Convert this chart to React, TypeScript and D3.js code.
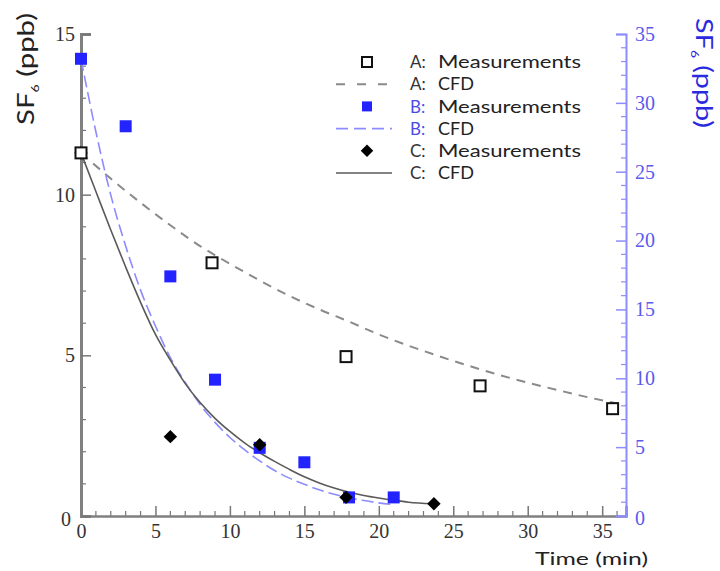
import * as d3 from 'd3';
import React, { useEffect, useRef } from 'react';

// measurements (left axis for A and C, right axis for B)
const timeA = [0, 8.8, 17.8, 26.8, 35.7];
const measA = [11.3, 7.88, 4.96, 4.05, 3.34];
const timeB = [0, 3, 6, 9, 12, 15, 18, 21];
const measB = [33.2, 28.3, 17.4, 9.9, 4.95, 3.9, 1.35, 1.35];
const timeC = [0, 6, 12, 17.8, 23.7];
const measC = [11.3, 2.47, 2.22, 0.58, 0.38];

// CFD curves
const cfdTimeA = [0, 2, 4, 6, 8, 10, 12, 14, 16, 18, 20, 22, 24, 26, 28, 30, 32, 34, 36.6];
const cfdA = [11.3, 10.5, 9.75, 9.05, 8.4, 7.85, 7.33, 6.85, 6.43, 6.05, 5.65, 5.3, 4.98, 4.68, 4.4, 4.15, 3.92, 3.7, 3.45];
const cfdTimeB = [0, 1, 2, 3, 4, 5, 6, 7, 8, 9, 10, 11, 12, 13, 14, 15, 16, 17, 18, 19, 20, 21];
const cfdB = [33.2, 27.9, 23.3, 19.6, 16.4, 13.8, 11.5, 9.7, 8.1, 6.8, 5.7, 4.8, 4.0, 3.3, 2.75, 2.3, 1.9, 1.58, 1.32, 1.12, 0.95, 0.82];
const cfdTimeC = [0, 1, 2, 3, 4, 5, 6, 7, 8, 9, 10, 11, 12, 13, 14, 15, 16, 17, 18, 19, 20, 21, 22, 23.6];
const cfdC = [11.3, 10.1, 8.9, 7.75, 6.65, 5.65, 4.85, 4.12, 3.53, 3.04, 2.63, 2.27, 1.97, 1.7, 1.45, 1.22, 1.03, 0.87, 0.74, 0.64, 0.56, 0.49, 0.43, 0.38];

const xTicks = [0, 5, 10, 15, 20, 25, 30, 35];
const leftTicks = [0, 5, 10, 15];
const rightTicks = [0, 5, 10, 15, 20, 25, 30, 35];

const legendItems = [
    { key: 'A:', label: 'Measurements', kind: 'open' },
    { key: 'A:', label: 'CFD', kind: 'dashA' },
    { key: 'B:', label: 'Measurements', kind: 'blue' },
    { key: 'B:', label: 'CFD', kind: 'dashB' },
    { key: 'C:', label: 'Measurements', kind: 'diamond' },
    { key: 'C:', label: 'CFD', kind: 'solid' },
];

const width = 720;
const height = 571;
const blue = '#2323ff';
const lavender = '#8c8cff';

export default function App() {
    const svgRef = useRef(null);

    useEffect(() => {
        if (!svgRef.current) return;
        const svg = d3.select(svgRef.current);
        svg.selectAll('*').remove();

        const x = d3.scaleLinear().domain([0, 36.6]).range([81, 626]);
        const yL = d3.scaleLinear().domain([0, 15]).range([516, 34]);
        const yR = d3.scaleLinear().domain([0, 35]).range([516, 34]);
        const serif = '"Liberation Serif", "Times New Roman", serif';
        const sans = 'Lato, "Open Sans", sans-serif';

        // minor ticks
        const minorX = d3.range(0, 37, 1).filter(d => d % 5 !== 0);
        svg.append('g').selectAll('line').data(minorX).join('line')
            .attr('x1', d => x(d)).attr('x2', d => x(d))
            .attr('y1', 516).attr('y2', 511)
            .attr('stroke', '#777').attr('stroke-width', 1.2);
        svg.append('g').selectAll('line').data(d3.range(1, 15).filter(d => d % 5 !== 0)).join('line')
            .attr('x1', 81).attr('x2', 86)
            .attr('y1', d => yL(d)).attr('y2', d => yL(d))
            .attr('stroke', '#777').attr('stroke-width', 1.2);
        svg.append('g').selectAll('line').data(d3.range(1, 35).filter(d => d % 5 !== 0)).join('line')
            .attr('x1', 626).attr('x2', 621)
            .attr('y1', d => yR(d)).attr('y2', d => yR(d))
            .attr('stroke', lavender).attr('stroke-width', 1.2);

        // bottom axis
        const gx = svg.append('g').attr('transform', 'translate(0,516)')
            .call(d3.axisBottom(x).tickValues(xTicks).tickSize(-10).tickPadding(8));
        gx.select('.domain').attr('stroke', '#808080').attr('stroke-width', 2.5);
        gx.selectAll('.tick line').attr('stroke', '#777').attr('stroke-width', 1.5);
        gx.selectAll('.tick text').style('font-family', serif).style('font-size', '20px').attr('fill', '#333');

        // left axis
        const gl = svg.append('g').attr('transform', 'translate(81,0)')
            .call(d3.axisLeft(yL).tickValues(leftTicks).tickSize(-10).tickPadding(6));
        gl.select('.domain').attr('stroke', '#808080').attr('stroke-width', 3);
        gl.selectAll('.tick line').attr('stroke', '#777').attr('stroke-width', 1.5);
        gl.selectAll('.tick text').style('font-family', serif).style('font-size', '20px').attr('fill', '#333');
        gl.selectAll('.tick text').filter(d => d === 0).attr('dy', '0.45em').attr('x', -10);

        // right axis
        const gr = svg.append('g').attr('transform', 'translate(626,0)')
            .call(d3.axisRight(yR).tickValues(rightTicks).tickSize(-10).tickPadding(9));
        gr.select('.domain').attr('stroke', lavender).attr('stroke-width', 2);
        gr.selectAll('.tick line').attr('stroke', lavender).attr('stroke-width', 1.5);
        gr.selectAll('.tick text').style('font-family', serif).style('font-size', '20px').attr('fill', '#5a5aee');
        gr.selectAll('.tick text').filter(d => d === 0).attr('dy', '0.4em');

        // CFD curves
        const lineL = d3.line().x(d => x(d[0])).y(d => yL(d[1])).curve(d3.curveMonotoneX);
        const lineR = d3.line().x(d => x(d[0])).y(d => yR(d[1])).curve(d3.curveMonotoneX);
        svg.append('path').attr('d', lineL(d3.zip(cfdTimeA, cfdA)))
            .attr('fill', 'none').attr('stroke', '#8a8a8a').attr('stroke-width', 2).attr('stroke-dasharray', '9,7');
        svg.append('path').attr('d', lineR(d3.zip(cfdTimeB, cfdB)))
            .attr('fill', 'none').attr('stroke', lavender).attr('stroke-width', 1.6).attr('stroke-dasharray', '12,5');
        svg.append('path').attr('d', lineL(d3.zip(cfdTimeC, cfdC)))
            .attr('fill', 'none').attr('stroke', '#5a5a5a').attr('stroke-width', 1.6);

        // markers
        const sq = 12;
        svg.append('g').selectAll('rect').data(d3.zip(timeB, measB)).join('rect')
            .attr('x', d => x(d[0]) - sq / 2).attr('y', d => yR(d[1]) - sq / 2)
            .attr('width', sq).attr('height', sq).attr('fill', blue);
        const diamond = d3.symbol().type(d3.symbolDiamond2).size(115);
        svg.append('g').selectAll('path').data(d3.zip(timeC, measC)).join('path')
            .attr('transform', d => `translate(${x(d[0])},${yL(d[1])})`)
            .attr('d', diamond()).attr('fill', '#000');
        svg.append('g').selectAll('rect').data(d3.zip(timeA, measA)).join('rect')
            .attr('x', d => x(d[0]) - 5.5).attr('y', d => yL(d[1]) - 5.5)
            .attr('width', 11).attr('height', 11)
            .attr('fill', 'white').attr('stroke', '#111').attr('stroke-width', 2);

        // legend
        const leg = svg.append('g');
        const rowY = d3.scaleLinear().domain([0, 5]).range([62, 173]);
        legendItems.forEach((it, i) => {
            const cy = rowY(i);
            const g = leg.append('g');
            if (it.kind === 'open') {
                g.append('rect').attr('x', 362).attr('y', cy - 5).attr('width', 10).attr('height', 10)
                    .attr('fill', 'white').attr('stroke', '#111').attr('stroke-width', 2);
            } else if (it.kind === 'blue') {
                g.append('rect').attr('x', 362).attr('y', cy - 5).attr('width', 10).attr('height', 10).attr('fill', blue);
            } else if (it.kind === 'diamond') {
                g.append('path').attr('transform', `translate(367,${cy})`)
                    .attr('d', d3.symbol().type(d3.symbolDiamond2).size(100)()).attr('fill', '#000');
            } else {
                const ln = g.append('line').attr('x1', 336).attr('x2', 392).attr('y1', cy).attr('y2', cy);
                if (it.kind === 'dashA') ln.attr('stroke', '#8a8a8a').attr('stroke-width', 2).attr('stroke-dasharray', '9,12');
                if (it.kind === 'dashB') ln.attr('stroke', lavender).attr('stroke-width', 1.6).attr('stroke-dasharray', '12,6');
                if (it.kind === 'solid') ln.attr('stroke', '#5a5a5a').attr('stroke-width', 1.6);
            }
            g.append('text').attr('x', 410).attr('y', cy).attr('dy', '0.36em')
                .style('font-family', sans).style('font-size', '17px')
                .attr('fill', it.key === 'B:' ? '#4b4be6' : '#333').text(it.key);
            g.append('text').attr('x', 438).attr('y', cy).attr('dy', '0.36em')
                .style('font-family', sans).style('font-size', '17px').attr('fill', '#222')
                .attr('textLength', it.label === 'CFD' ? 36 : 143).attr('lengthAdjust', 'spacingAndGlyphs')
                .text(it.label);
        });

        // axis titles
        const lt = svg.append('text').attr('transform', 'translate(34,69) rotate(-90)')
            .attr('text-anchor', 'middle').style('font-family', sans).style('font-size', '23px').attr('fill', '#222')
            .attr('textLength', 112).attr('lengthAdjust', 'spacingAndGlyphs');
        lt.append('tspan').text('SF');
        lt.append('tspan').style('font-size', '11px').attr('dy', 5).text('6');
        lt.append('tspan').attr('dy', -5).text(' (ppb)');

        const rt = svg.append('text').attr('transform', 'translate(696,73) rotate(90)')
            .attr('text-anchor', 'middle').style('font-family', sans).style('font-size', '23px').attr('fill', '#2a2ae0')
            .attr('textLength', 110).attr('lengthAdjust', 'spacingAndGlyphs');
        rt.append('tspan').text('SF');
        rt.append('tspan').style('font-size', '11px').attr('dy', 5).text('6');
        rt.append('tspan').attr('dy', -5).text(' (ppb)');

        svg.append('text').attr('x', 535).attr('y', 565)
            .style('font-family', sans).style('font-size', '18px').attr('fill', '#222')
            .attr('textLength', 113).attr('lengthAdjust', 'spacingAndGlyphs')
            .text('Time (min)');
    }, []);

    return (
        <svg ref={svgRef} width={width} height={height}
            style={{ position: 'absolute', left: 0, top: 0, background: 'white' }} />
    );
}
